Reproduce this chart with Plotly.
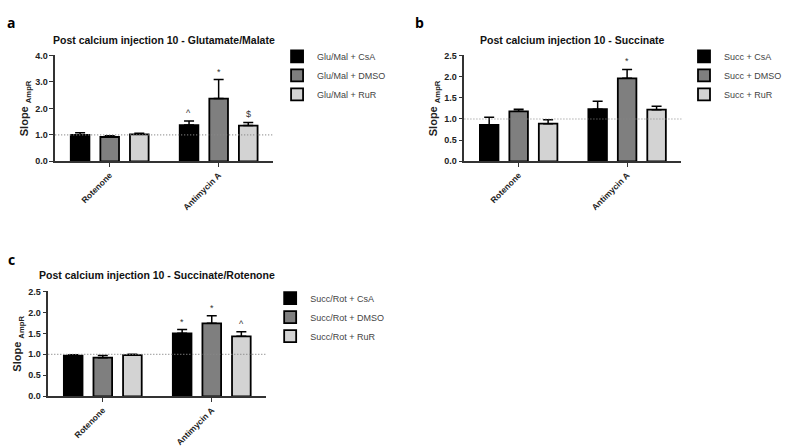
import plotly.graph_objects as go

categories = ["Rotenone", "Antimycin A"]
treatments = ["CsA", "DMSO", "RuR"]
colors = ["#000000", "#7f7f7f", "#d3d3d3"]

# Panel a: Glutamate/Malate
a_prefix = "Glu/Mal"
a_vals = {"CsA": [1.00, 1.37], "DMSO": [0.92, 2.37], "RuR": [1.02, 1.35]}
a_err = {"CsA": [0.08, 0.15], "DMSO": [0.05, 0.72], "RuR": [0.04, 0.12]}
a_marks = {"CsA": ["", "^"], "DMSO": ["", "*"], "RuR": ["", "$"]}

# Panel b: Succinate
b_prefix = "Succ"
b_vals = {"CsA": [0.86, 1.23], "DMSO": [1.18, 1.96], "RuR": [0.89, 1.22]}
b_err = {"CsA": [0.18, 0.19], "DMSO": [0.05, 0.21], "RuR": [0.09, 0.08]}
b_marks = {"CsA": ["", ""], "DMSO": ["", "*"], "RuR": ["", ""]}

# Panel c: Succinate/Rotenone
c_prefix = "Succ/Rot"
c_vals = {"CsA": [0.97, 1.50], "DMSO": [0.92, 1.74], "RuR": [0.98, 1.43]}
c_err = {"CsA": [0.02, 0.09], "DMSO": [0.05, 0.18], "RuR": [0.02, 0.11]}
c_marks = {"CsA": ["", "*"], "DMSO": ["", "*"], "RuR": ["", "^"]}

titles = ["Post calcium injection 10 - Glutamate/Malate",
          "Post calcium injection 10 - Succinate",
          "Post calcium injection 10 - Succinate/Rotenone"]
panel_letters = ["a", "b", "c"]

W, H = 787, 447
FONT = "Liberation Sans, Arial, sans-serif"

# layout geometry (pixels)
panels = [
    dict(x0=56, x1=277, ytop=52, ybot=161, ymax=4.0, dtick=1.0, title_y=36,
         leg_x=281, leg_y=38, letter=(5, 6)),
    dict(x0=471, x1=691, ytop=52, ybot=161, ymax=2.5, dtick=0.5, title_y=36,
         leg_x=694, leg_y=38, letter=(419, 6)),
    dict(x0=49, x1=270, ytop=295, ybot=403, ymax=2.5, dtick=0.5, title_y=278,
         leg_x=274, leg_y=287, letter=(6, 250)),
]
datasets = [(a_prefix, a_vals, a_err, a_marks),
            (b_prefix, b_vals, b_err, b_marks),
            (c_prefix, c_vals, c_err, c_marks)]

fig = go.Figure()
layout = dict(width=W, height=H, margin=dict(l=0, r=0, t=0, b=0),
              paper_bgcolor="white", plot_bgcolor="white",
              barmode="group", bargap=0.185, bargroupgap=0.37,
              font=dict(family=FONT, color="#222222"),
              showlegend=True)
annotations = []
shapes = []

for p, (geo, (prefix, vals, errs, marks)) in enumerate(zip(panels, datasets)):
    sfx = "" if p == 0 else str(p + 1)
    xa, ya = "x" + sfx, "y" + sfx
    leg = "legend" if p == 0 else "legend" + str(p + 1)
    for t, col in zip(treatments, colors):
        fig.add_trace(go.Bar(
            x=categories, y=vals[t], name=f"{prefix} + {t}",
            marker=dict(color=col, line=dict(color="#000000", width=1.8)),
            error_y=dict(type="data", symmetric=False, array=errs[t],
                         arrayminus=[0] * len(categories),
                         color="#000000", thickness=1.5, width=5),
            xaxis=xa, yaxis=ya, legend=leg))
    # significance marks
    for i, t in enumerate(treatments):
        for j, cat in enumerate(categories):
            m = marks[t][j]
            if m:
                annotations.append(dict(
                    x=cat, y=vals[t][j] + errs[t][j], xref=xa, yref=ya,
                    text=m, showarrow=False, yanchor="bottom", yshift=1,
                    xshift=(i - 1) * 30,
                    font=dict(size=9, family=FONT, color="#333333")))
    dom_x = [geo["x0"] / W, geo["x1"] / W]
    dom_y = [1 - geo["ybot"] / H, 1 - geo["ytop"] / H]
    layout["xaxis" + sfx] = dict(
        domain=dom_x, anchor=ya, type="category", range=[-0.5, 1.5],
        showline=True, linecolor="#333333", linewidth=1.5,
        ticks="outside", ticklen=4, tickwidth=1.2, tickcolor="#333333",
        tickangle=-45,
        tickfont=dict(size=8.5, family=FONT, color="#222222", weight="bold"),
        showgrid=False, zeroline=False, fixedrange=True)
    layout["yaxis" + sfx] = dict(
        domain=dom_y, anchor=xa, range=[0, geo["ymax"]], dtick=geo["dtick"],
        tick0=0, tickformat=".1f",
        showline=True, linecolor="#333333", linewidth=1.5,
        ticks="outside", ticklen=4, tickwidth=1.2, tickcolor="#333333",
        tickfont=dict(size=9, family=FONT, color="#222222", weight="bold"),
        title=dict(text="<b>Slope</b> <b><sub>AmpR</sub></b>", standoff=4,
                   font=dict(size=11, family=FONT, color="#222222")),
        showgrid=False, zeroline=False, fixedrange=True)
    layout[leg] = dict(
        x=geo["leg_x"] / W, y=1 - geo["leg_y"] / H, xanchor="left", yanchor="top",
        font=dict(size=9, family=FONT, color="#444444"),
        itemwidth=30, bgcolor="rgba(0,0,0,0)", tracegroupgap=0)
    # dotted reference line at 1.0
    shapes.append(dict(type="line", xref=xa + " domain", yref=ya,
                       x0=0, x1=1, y0=1.0, y1=1.0,
                       line=dict(color="#888888", width=1.2, dash="1px,2px")))
    # title
    annotations.append(dict(
        x=(geo["x0"] + geo["x1"]) / 2 / W, y=1 - geo["title_y"] / H,
        xref="paper", yref="paper", text="<b>" + titles[p] + "</b>",
        showarrow=False, xanchor="center", yanchor="middle",
        font=dict(size=10.5, family=FONT, color="#111111")))
    # panel letter
    lx, ly = geo["letter"]
    annotations.append(dict(
        x=lx / W, y=1 - ly / H, xref="paper", yref="paper",
        text="<b>" + panel_letters[p] + "</b>", showarrow=False,
        xanchor="left", yanchor="top",
        font=dict(size=14, family="Open Sans, sans-serif", color="#000000")))

layout["annotations"] = annotations
layout["shapes"] = shapes
fig.update_layout(**layout)
fig.write_html(
    "out.html", config={"displayModeBar": False},
    post_script=("document.documentElement.style.overflow='hidden';"
                 "document.body.style.overflow='hidden';"
                 "document.body.style.margin='0';document.body.style.padding='0';"))
